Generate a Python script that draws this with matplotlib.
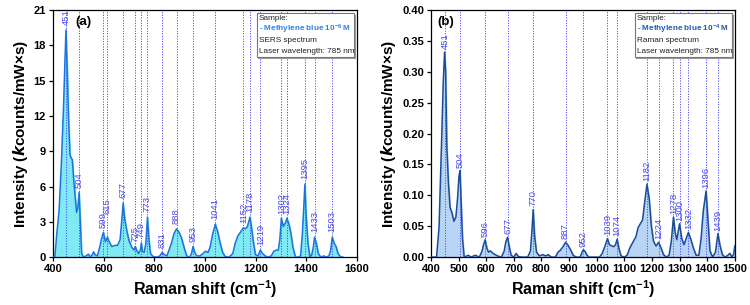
import matplotlib
matplotlib.use("Agg")
import matplotlib.pyplot as plt
from matplotlib.patches import Rectangle

plt.rcParams['font.family'] = ['Liberation Sans', 'DejaVu Sans']
plt.rcParams['mathtext.fontset'] = 'custom'
plt.rcParams['mathtext.it'] = 'Liberation Sans:italic:bold'
plt.rcParams['mathtext.bf'] = 'Liberation Sans:bold'
plt.rcParams['mathtext.rm'] = 'Liberation Sans:bold'

# (a) SERS spectrum, methylene blue 1e-6 M
sers_x = [400, 407, 415, 424, 432, 441, 446, 451, 456, 461, 467, 472, 476, 482, 488, 493, 498, 503,
          508, 513, 520, 530, 540, 548, 555, 560, 566, 575, 585, 592, 599, 607, 615, 622, 632, 645,
          655, 665, 672, 677, 683, 690, 700, 712, 720, 725, 730, 738, 745, 749, 753, 760, 767, 773,
          779, 785, 795, 810, 822, 831, 840, 850, 860, 868, 878, 888, 898, 908, 918, 928, 940, 947,
          953, 960, 968, 980, 992, 1002, 1012, 1020, 1030, 1041, 1050, 1060, 1070, 1080, 1095, 1110,
          1120, 1130, 1140, 1152, 1160, 1168, 1178, 1185, 1192, 1200, 1210, 1219, 1228, 1238, 1250,
          1262, 1272, 1282, 1290, 1296, 1302, 1310, 1318, 1324, 1332, 1340, 1348, 1358, 1368, 1378,
          1385, 1390, 1395, 1400, 1407, 1415, 1422, 1428, 1433, 1440, 1448, 1458, 1470, 1480, 1490,
          1497, 1503, 1510, 1518, 1526, 1535, 1545]
sers_y = [0, 0, 2.0, 4.0, 7.5, 12.5, 16.0, 19.3, 16.0, 12.0, 8.7, 8.4, 8.3, 6.5, 5.0, 3.8, 4.2, 5.5,
          3.0, 0.3, 0, 0.1, 0.25, 0, 0.2, 0.45, 0.2, 0.1, 0.9, 1.6, 2.1, 1.3, 1.7, 1.3, 0.9, 1.0,
          1.0, 1.5, 3.2, 4.6, 3.3, 2.4, 1.4, 0.8, 0.6, 0.9, 0.6, 0.3, 0.6, 1.2, 0.5, 0.4, 1.2, 3.4,
          1.5, 0.3, 0.05, 0, 0.1, 0.4, 0.2, 0.1, 0.7, 1.2, 2.0, 2.4, 2.1, 1.6, 0.8, 0.1, 0, 0.3,
          0.9, 0.4, 0.1, 0.1, 0.3, 0.5, 0.4, 0.8, 1.9, 2.8, 2.2, 1.2, 0.4, 0.05, 0, 0.3,
          1.2, 1.8, 2.1, 2.5, 2.4, 2.6, 3.4, 2.4, 1.2, 0.2, 0.1, 0.6, 0.3, 0.1, 0,
          0.1, 0.5, 0.6, 0.6, 1.5, 3.3, 2.6, 2.9, 3.3, 2.8, 2.0, 0.8, 0, 0, 0.1,
          2.0, 4.0, 6.2, 3.5, 1.2, 0, 0.2, 0.8, 1.7, 1.2, 0.3, 0, 0.1, 0, 0.1,
          0.6, 1.7, 1.2, 0.9, 0.3, 0.05, 0]
sers_peaks = [451, 504, 599, 615, 677, 725, 749, 773, 831, 888, 953, 1041, 1152, 1178, 1219,
              1302, 1324, 1395, 1433, 1503]
sers_peak_h = [19.3, 5.5, 2.1, 1.7, 4.6, 0.9, 1.2, 3.4, 0.4, 2.4, 0.9, 2.8, 2.5, 3.4, 0.6,
               3.3, 3.3, 6.2, 1.7, 1.7]

# (b) Raman spectrum, methylene blue 1e-4 M
raman_x = [400, 420, 429, 438, 444, 449, 453, 457, 463, 469, 475, 483, 490, 496, 501, 505, 509, 514,
           520, 535, 545, 560, 575, 585, 590, 596, 602, 608, 615, 625, 640, 655, 665, 671, 677, 683,
           690, 700, 708, 716, 730, 750, 760, 765, 770, 775, 782, 792, 805, 815, 825, 835, 850,
           860, 868, 878, 887, 895, 905, 915, 925, 940, 947, 952, 958, 965, 972, 990, 1010, 1020,
           1030, 1039, 1046, 1055, 1062, 1068, 1074, 1080, 1088, 1100, 1110, 1120, 1132, 1142,
           1150, 1158, 1166, 1174, 1182, 1190, 1198, 1206, 1215, 1224, 1232, 1242, 1252, 1262,
           1270, 1278, 1284, 1290, 1300, 1308, 1316, 1324, 1332, 1340, 1350, 1360, 1370, 1378,
           1386, 1396, 1403, 1410, 1420, 1430, 1439, 1446, 1455, 1465, 1475, 1482, 1490, 1496, 1500]
raman_y = [0, 0, 0.048, 0.183, 0.28, 0.332, 0.3, 0.183, 0.12, 0.08, 0.073, 0.058, 0.065, 0.095, 0.13, 0.14,
           0.09, 0.03, 0, 0.003, 0, 0.003, 0, 0.01, 0.02, 0.028, 0.015, 0.008, 0.01, 0.006, 0.002, 0, 0.01,
           0.025, 0.032, 0.018, 0.003, 0, 0.006, 0.001, 0, 0, 0.01, 0.04, 0.077, 0.035, 0.008, 0.002, 0.004,
           0.002, 0.004, 0, 0, 0.008, 0.011, 0.017, 0.024, 0.02, 0.012, 0.003, 0, 0, 0.008, 0.012, 0.009,
           0.003, 0, 0, 0, 0.006, 0.018, 0.03, 0.02, 0.018, 0.017, 0.02, 0.029, 0.015, 0.002, 0, 0.003,
           0.015, 0.025, 0.033, 0.048, 0.054, 0.06, 0.09, 0.118, 0.095, 0.05, 0.025, 0.018, 0.024,
           0.016, 0.004, 0, 0.003, 0.025, 0.065, 0.04, 0.028, 0.054, 0.03, 0.02, 0.03, 0.04, 0.03,
           0.015, 0.003, 0.003, 0.03, 0.075, 0.107, 0.06, 0.01, 0, 0.008, 0.038, 0.02, 0.004, 0,
           0.003, 0.006, 0, 0.005, 0.018]
raman_peaks = [451, 504, 596, 677, 770, 887, 952, 1039, 1074, 1182, 1224, 1278, 1300, 1332, 1396, 1439]
raman_peak_h = [0.332, 0.14, 0.028, 0.032, 0.077, 0.024, 0.012, 0.03, 0.029, 0.118, 0.024,
                0.065, 0.054, 0.04, 0.107, 0.038]

fig = plt.figure(figsize=(7.5, 3.05), dpi=100)
ax_a = fig.add_axes([0.0707, 0.157, 0.405, 0.81])
ax_b = fig.add_axes([0.5747, 0.157, 0.405, 0.81])

peak_blue = '#4a4af2'
label_font = ['Liberation Sans Narrow', 'Liberation Sans']


def draw_panel(ax, x, y, peaks, peak_h, fill_c, line_c, xlim, ylim, xticks, yticks, yfmt,
               tag, tag_x, conc, kind, conc_c, lab_off, lifts):
    ax.fill_between(x, y, 0, color=fill_c, zorder=1)
    ax.plot(x, y, color=line_c, lw=1.1, zorder=3)
    for p, h in zip(peaks, peak_h):
        ax.axvline(p, color=peak_blue, ls=(0, (1.2, 1.5)), lw=0.7, zorder=2)
        ax.text(p, h + lab_off + lifts.get(p, 0), str(p), rotation=90, ha='center', va='bottom',
                fontsize=6.8, color=peak_blue, family=label_font, zorder=4)
    ax.set_xlim(*xlim)
    ax.set_ylim(*ylim)
    ax.set_xticks(xticks)
    ax.set_yticks(yticks)
    ax.set_yticklabels([yfmt.format(v) for v in yticks])
    ax.tick_params(direction='out', length=3, width=0.9, labelsize=8, pad=2)
    for lbl in ax.get_xticklabels() + ax.get_yticklabels():
        lbl.set_fontweight('bold')
    for s in ax.spines.values():
        s.set_linewidth(0.9)
    ax.set_xlabel('Raman shift (cm$^{\\mathbf{-1}}$)', fontsize=11.5, fontweight='bold', labelpad=3)
    ax.set_ylabel('Intensity ($\\boldsymbol{k}$counts/mW×s)', fontsize=11, fontweight='bold', labelpad=3)
    ax.text(tag_x, 0.95, tag, transform=ax.transAxes, fontsize=9.5, fontweight='bold',
            ha='left', va='center', zorder=6)
    # info box with shadow
    ax.add_patch(Rectangle((0.676, 0.802), 0.322, 0.178, transform=ax.transAxes,
                           facecolor='#999999', edgecolor='none', zorder=6, clip_on=False))
    ax.add_patch(Rectangle((0.670, 0.810), 0.322, 0.178, transform=ax.transAxes,
                           facecolor='white', edgecolor='#777777', lw=0.8, zorder=7))
    rows = ['Sample:', '- Methylene blue ' + conc, kind, 'Laser wavelength: 785 nm']
    ys = [0.966, 0.921, 0.876, 0.832]
    for i, (r, yy) in enumerate(zip(rows, ys)):
        ax.text(0.677, yy, r, transform=ax.transAxes, fontsize=5.9, ha='left', va='center',
                color=conc_c if i == 1 else '#222222', fontweight='bold' if i == 1 else 'normal',
                zorder=8)


draw_panel(ax_a, sers_x, sers_y, sers_peaks, sers_peak_h, '#80eaf4', '#1e74dc',
           (400, 1600), (0, 21), list(range(400, 1601, 200)), list(range(0, 22, 3)), '{:d}',
           '(a)', 0.075, '10$^{\\mathbf{-6}}$ M', 'SERS spectrum', '#2f80e8', 0.4, {615: 1.6})
draw_panel(ax_b, raman_x, raman_y, raman_peaks, raman_peak_h, '#b9d5f5', '#1b4d96',
           (400, 1500), (0, 0.40), list(range(400, 1501, 100)),
           [0, 0.05, 0.10, 0.15, 0.20, 0.25, 0.30, 0.35, 0.40], '{:.2f}',
           '(b)', 0.02, '10$^{\\mathbf{-4}}$ M', 'Raman spectrum', '#1d5cb0', 0.005, {})

fig.savefig('out.png', dpi=100)
